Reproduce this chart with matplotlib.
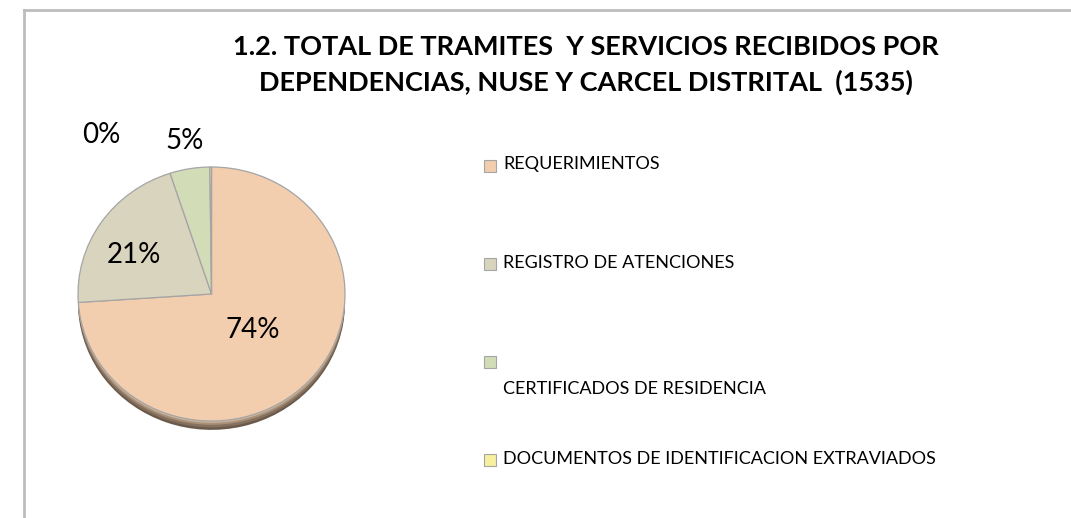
import matplotlib
matplotlib.use('Agg')
import matplotlib.pyplot as plt
from matplotlib.patches import Rectangle
from matplotlib.lines import Line2D
import numpy as np

plt.rcParams['font.family'] = ['Lato', 'DejaVu Sans']

# ------------------------------------------------------------
# Datos (total 1535)
# ------------------------------------------------------------
categorias = ['REQUERIMIENTOS', 'REGISTRO DE ATENCIONES',
              'CERTIFICADOS DE RESIDENCIA',
              'DOCUMENTOS DE IDENTIFICACION EXTRAVIADOS']
valores = [1135, 323, 74, 3]
colores = ['#F2CDAE', '#D9D4BE', '#D2DDB7', '#F6F0A0']
titulo = ('1.2. TOTAL DE TRAMITES  Y SERVICIOS RECIBIDOS POR\n'
          'DEPENDENCIAS, NUSE Y CARCEL DISTRITAL  (1535)')

W, H = 1071, 518
fig = plt.figure(figsize=(W / 100, H / 100), dpi=100)
fig.patch.set_facecolor('white')

# marco gris (solo arriba e izquierda)
fig.add_artist(Line2D([24 / W, 24 / W], [0, 1 - 10 / H], color='#BDBDBD', lw=2))
fig.add_artist(Line2D([24 / W, 1], [1 - 10 / H, 1 - 10 / H], color='#BDBDBD', lw=2))

fig.text(586 / W, 1 - 65 / H, titulo, ha='center', va='center',
         fontsize=19.5, fontweight='bold', linespacing=1.5, color='black')

# ------------------------------------------------------------
# Pastel (elipse ligeramente achatada + sombra)
# ------------------------------------------------------------
cx, rx, ry = 211.5, 133.5, 127
top = 167
ymin = -1.08
ax = fig.add_axes([(cx - rx) / W, 1 - (top + (1 - ymin) * ry) / H,
                   2 * rx / W, (1 - ymin) * ry / H])

# sombra inferior en capas
for off, c in [(0.07, '#6B5A4B'), (0.05, '#86715F'), (0.03, '#A89079'), (0.014, '#CDB39A')]:
    ax.pie(valores, colors=[c] * len(valores), startangle=90, counterclock=False,
           center=(0, -off), wedgeprops=dict(linewidth=0))

wedges, texts, autotexts = ax.pie(
    valores, colors=colores, startangle=90, counterclock=False,
    autopct='%1.0f%%', pctdistance=0.5,
    wedgeprops=dict(edgecolor='#A5A5A5', linewidth=0.9),
    textprops=dict(fontsize=20, color='black'))

ax.set_aspect('auto')
ax.set_xlim(-1, 1)
ax.set_ylim(ymin, 1)
ax.axis('off')

# posiciones de las etiquetas (distancia radial y ajuste angular)
dist = [0.42, 0.66, 1.22, 1.5]
giro = [0, 6, 0, 33]
for w, t, d, g in zip(wedges, autotexts, dist, giro):
    ang = np.deg2rad((w.theta1 + w.theta2) / 2 + g)
    t.set_position((d * np.cos(ang), d * np.sin(ang)))
    t.set_clip_on(False)

# ------------------------------------------------------------
# Leyenda manual
# ------------------------------------------------------------
y0, paso = 166, 98
etiquetas = ['REQUERIMIENTOS', 'REGISTRO DE ATENCIONES',
             '\nCERTIFICADOS DE RESIDENCIA',
             'DOCUMENTOS DE IDENTIFICACION EXTRAVIADOS']
for i, (lab, col) in enumerate(zip(etiquetas, colores)):
    y = y0 + paso * i
    fig.add_artist(Rectangle((484 / W, 1 - (y + 6) / H), 12 / W, 12 / H,
                             facecolor=col, edgecolor='#A5A5A5', lw=0.8))
    fig.text(503 / W, 1 - (y - 9.5) / H, lab, ha='left', va='top',
             fontsize=13, linespacing=2.0, color='black')

plt.savefig('out.png', dpi=100)
